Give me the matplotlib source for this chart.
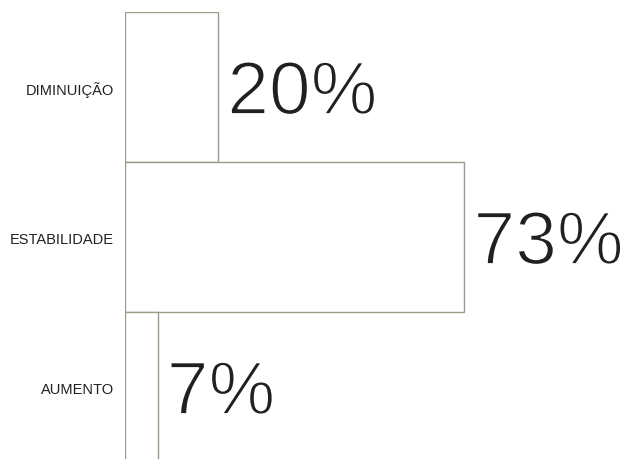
import matplotlib.pyplot as plt
import matplotlib.patheffects as pe

categorias = ['DIMINUIÇÃO', 'ESTABILIDADE', 'AUMENTO']
valores = [20, 73, 7]
rotulos = ['20%', '73%', '7%']

fig = plt.figure(figsize=(6.25, 4.6), dpi=100)
ax = fig.add_axes([0.2, 0.0, 0.8, 0.9717])

pos = list(range(len(categorias)))
ax.barh(pos, valores, height=1.0, color='white', edgecolor='#9b9b88', linewidth=1.0)

ax.set_xlim(0, 107.6)
ax.set_ylim(2.48, -0.5)

# contorno branco por cima para deixar o traço mais fino
fino = [pe.Normal(), pe.Stroke(linewidth=1.3, foreground='white')]
for p, v, r in zip(pos, valores, rotulos):
    ax.text(v + 2.0, p + 0.05, r, va='center', ha='left', fontsize=54,
            family=['Liberation Sans', 'DejaVu Sans'], color='#231f20', path_effects=fino)

ax.set_yticks(pos)
ax.set_yticklabels(categorias, fontsize=10.5, family=['Liberation Sans', 'DejaVu Sans'], color='#231f20')
ax.tick_params(axis='y', length=0, pad=8)
ax.set_xticks([])
for s in ax.spines.values():
    s.set_visible(False)

fig.savefig('out.png', dpi=100)
